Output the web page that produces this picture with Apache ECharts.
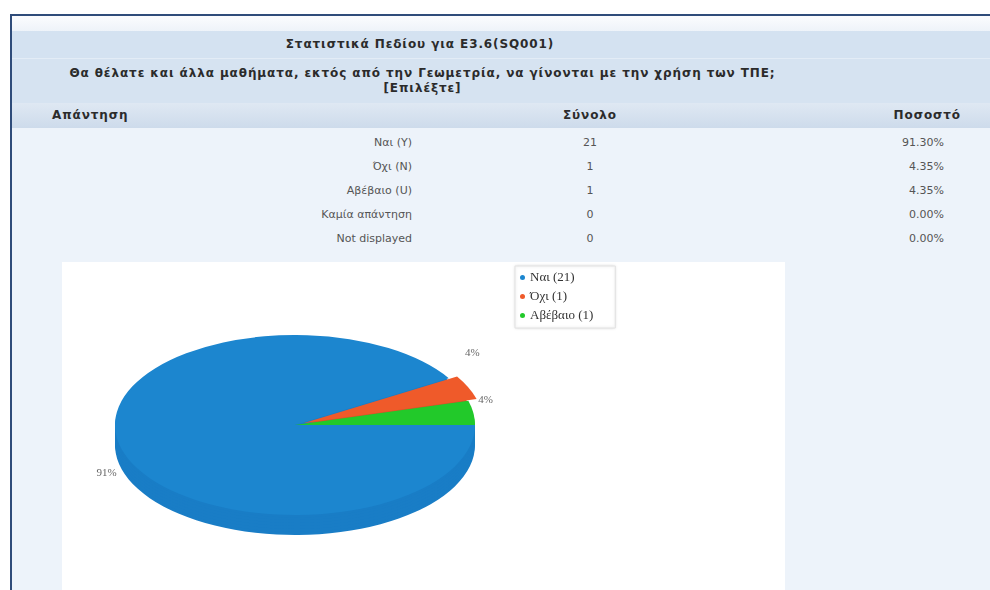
<!DOCTYPE html>
<html>
<head>
<meta charset="utf-8">
<title>Στατιστικά Πεδίου</title>
<script src="https://cdn.jsdelivr.net/npm/echarts@6/dist/echarts.min.js"></script>
<style>
body{margin:0;width:990px;height:590px;overflow:hidden;background:#fff;font-family:"DejaVu Sans",Verdana,sans-serif;}
.abs{position:absolute;}
#frame{left:10px;top:14px;width:980px;height:576px;border-left:2px solid #2f4c7a;border-top:2px solid #2f4c7a;background:#edf3fa;}
#band0{left:12px;top:16px;width:978px;height:15px;background:linear-gradient(#fbfcfe,#eef3f9);}
#band1{left:12px;top:31px;width:978px;height:27px;background:#d4e2f1;border-bottom:1px solid #e3ecf6;}
#band2{left:12px;top:59px;width:978px;height:44px;background:#d6e3f1;}
#band3{left:12px;top:103px;width:978px;height:25px;background:linear-gradient(#dfe8f3,#cddbeb);}
.hd{font-weight:bold;font-size:12px;letter-spacing:0.9px;color:#2b2b2b;white-space:nowrap;}
.row{font-size:11px;color:#555;height:24px;line-height:24px;}
#box{left:62px;top:262px;width:723px;height:330px;background:#fff;overflow:hidden;}
#pie{left:0;top:0;width:723px;height:660px;transform:scaleY(0.5);transform-origin:0 0;}
#overlay{left:0;top:0;width:723px;height:330px;}
</style>
</head>
<body>
<div id="frame" class="abs"></div>
<div id="band0" class="abs"></div>
<div id="band1" class="abs"></div>
<div id="band2" class="abs"></div>
<div id="band3" class="abs"></div>

<div class="abs hd" style="left:0;width:840px;top:37px;text-align:center;">Στατιστικά Πεδίου για Ε3.6(SQ001)</div>
<div class="abs hd" style="left:0;width:845px;top:66px;text-align:center;line-height:15px;">Θα θέλατε και άλλα μαθήματα, εκτός από την Γεωμετρία, να γίνονται με την χρήση των ΤΠΕ;<br>[Επιλέξτε]</div>
<div class="abs hd" style="left:52px;top:108px;">Απάντηση</div>
<div class="abs hd" style="left:540px;width:100px;top:108px;text-align:center;">Σύνολο</div>
<div class="abs hd" style="left:860px;width:101px;top:108px;text-align:right;">Ποσοστό</div>

<div id="rows"></div>

<div id="box" class="abs">
  <div id="pie" class="abs"></div>
  <div id="overlay" class="abs"></div>
</div>

<script>
// απαντήσεις του πίνακα
const answerLabels = ['Ναι (Y)', 'Όχι (N)', 'Αβέβαιο (U)', 'Καμία απάντηση', 'Not displayed'];
const answerCounts = [21, 1, 1, 0, 0];
const answerPercents = ['91.30%', '4.35%', '4.35%', '0.00%', '0.00%'];

// δεδομένα πίτας
const pieNames = ['Ναι', 'Όχι', 'Αβέβαιο'];
const pieValues = [21, 1, 1];

const topColors = ['#1c86cf', '#ef5a2a', '#22c92a'];
const sideColors = ['#197dc6', '#d9522a', '#1fb826'];

// γραμμές του πίνακα
let rowsHtml = '';
for (let i = 0; i < answerLabels.length; i++) {
  let top = 131 + i * 24;
  rowsHtml += '<div class="abs row" style="left:200px;width:212px;top:' + top + 'px;text-align:right;">' + answerLabels[i] + '</div>';
  rowsHtml += '<div class="abs row" style="left:540px;width:100px;top:' + top + 'px;text-align:center;">' + answerCounts[i] + '</div>';
  rowsHtml += '<div class="abs row" style="left:844px;width:100px;top:' + top + 'px;text-align:right;">' + answerPercents[i] + '</div>';
}
document.getElementById('rows').innerHTML = rowsHtml;

function pieData(colors, selectOrange) {
  let arr = [];
  for (let i = 0; i < pieNames.length; i++) {
    arr.push({
      name: pieNames[i],
      value: pieValues[i],
      selected: selectOrange && i === 1,
      itemStyle: { color: colors[i] }
    });
  }
  return arr;
}

// η πίτα σχεδιάζεται κυκλική και συμπιέζεται κάθετα (3D όψη)
let pieChart = echarts.init(document.getElementById('pie'), null, { renderer: 'svg' });
let pieSeries = [];
let depths = [40, 34, 28, 22, 16, 10, 5];
depths.forEach(function (d, k) {
  pieSeries.push({
    type: 'pie',
    center: [233, 326 + d],
    radius: 180,
    startAngle: 0,
    clockwise: true,
    silent: true,
    z: k + 1,
    label: { show: false },
    labelLine: { show: false },
    animation: false,
    data: pieData(sideColors, false)
  });
});
pieSeries.push({
  type: 'pie',
  center: [233, 326],
  radius: 180,
  startAngle: 0,
  clockwise: true,
  selectedMode: 'multiple',
  selectedOffset: 9,
  silent: true,
  z: 20,
  label: { show: false },
  labelLine: { show: false },
  animation: false,
  data: pieData(topColors, true)
});
pieChart.setOption({ series: pieSeries });

// ετικέτες και υπόμνημα
let overlay = echarts.init(document.getElementById('overlay'));
let legendData = pieNames.map(function (n, i) {
  return { name: n, itemStyle: { color: topColors[i] } };
});
overlay.setOption({
  animation: false,
  legend: {
    orient: 'vertical',
    left: 453,
    top: 4,
    icon: 'circle',
    itemWidth: 5,
    itemHeight: 5,
    itemGap: 6,
    padding: [5, 22, 6, 5],
    backgroundColor: '#fff',
    borderColor: '#e2e2e2',
    borderWidth: 1,
    shadowBlur: 3,
    shadowColor: 'rgba(0,0,0,0.12)',
    selectedMode: false,
    data: legendData,
    formatter: function (name) {
      return name + ' (' + pieValues[pieNames.indexOf(name)] + ')';
    },
    textStyle: { fontFamily: 'Liberation Serif', fontSize: 13, color: '#333' }
  },
  series: [{
    type: 'pie',
    center: [233, 163],
    radius: 180,
    startAngle: 0,
    clockwise: true,
    silent: true,
    avoidLabelOverlap: false,
    itemStyle: { color: 'rgba(0,0,0,0)' },
    label: {
      show: true,
      position: 'outside',
      distance: 6,
      fontFamily: 'Liberation Serif',
      fontSize: 11,
      color: '#666',
      formatter: function (p) { return Math.round(p.percent) + '%'; }
    },
    labelLine: { show: false, length: 0, length2: 0 },
    data: pieNames.map(function (n, i) { return { name: n, value: pieValues[i] }; })
  }]
});
</script>
</body>
</html>
